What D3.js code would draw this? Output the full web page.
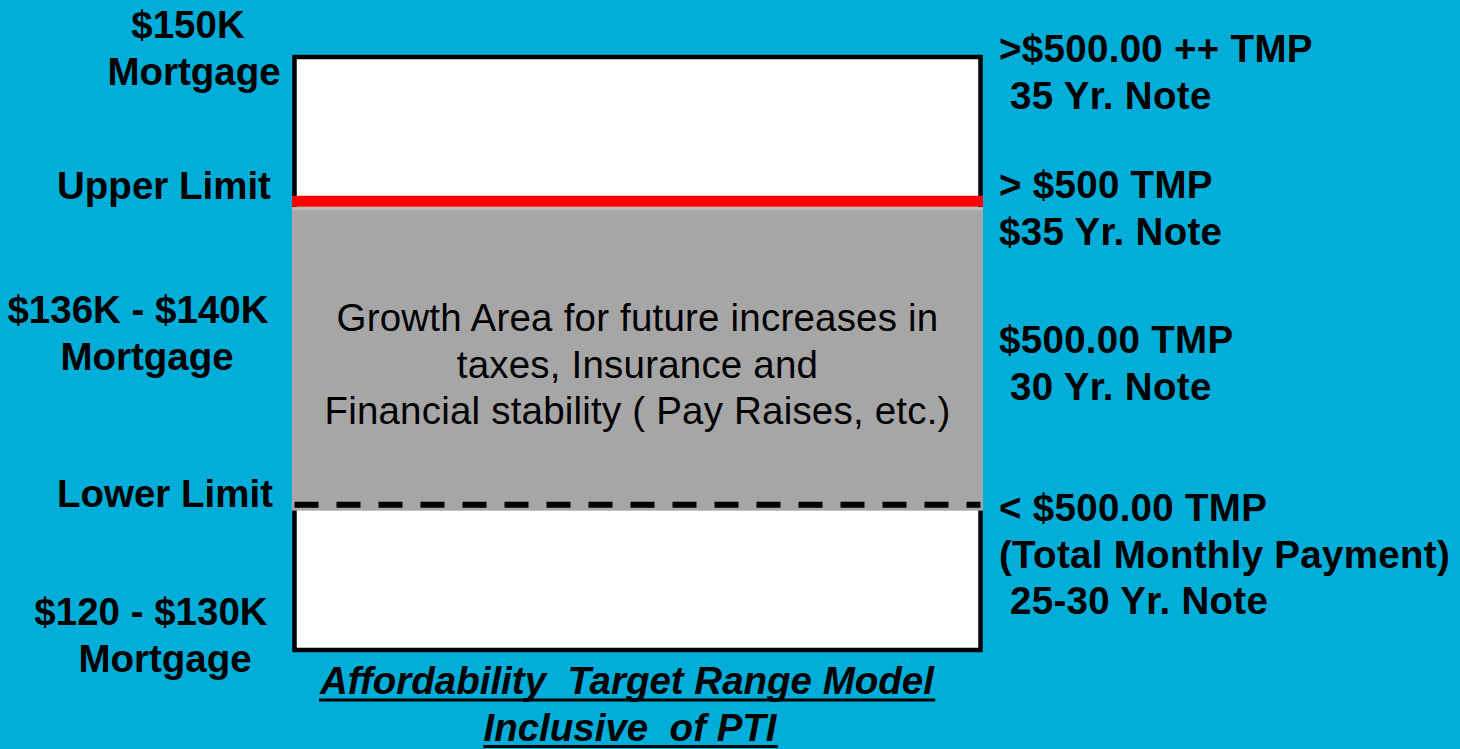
<!DOCTYPE html>
<html>
<head>
<meta charset="utf-8">
<script src="https://cdn.jsdelivr.net/npm/d3@7"></script>
<style>
    html, body { margin: 0; padding: 0; background: #00AED9; }
    svg { display: block; }
    text { font-family: "Liberation Sans", Arial, sans-serif; white-space: pre; fill: #000; }
</style>
</head>
<body>
<svg id="chart" width="1460" height="749"></svg>
<script>
'use strict';

// mortgage range covered by the box ($K)
var mortgageRange = [120, 150];
// upper (red) and lower (dashed) limits
var upperLimit = 142.7;
var lowerLimit = 127.35;
// grey growth band
var growthBand = [142.4, 127.05];

var leftLabels = [
    ['$150K', 'Mortgage'],
    ['Upper Limit'],
    ['$136K - $140K', 'Mortgage'],
    ['Lower Limit'],
    ['$120 - $130K', 'Mortgage']
];
var rightLabels = [
    ['>$500.00 ++ TMP', ' 35 Yr. Note'],
    ['> $500 TMP', '$35 Yr. Note'],
    ['$500.00 TMP', ' 30 Yr. Note'],
    ['< $500.00 TMP', '(Total Monthly Payment)', ' 25-30 Yr. Note']
];
var growthText = [
    'Growth Area for future increases in',
    'taxes, Insurance and',
    'Financial stability ( Pay Raises, etc.)'
];
var titleLines = ['Affordability  Target Range Model', 'Inclusive  of PTI'];

// layout
var box = {x0: 294.5, x1: 980.5, y0: 57, y1: 650};
var lineStep = 46.5;
var leftBase = [38, 199, 323, 507, 625];
var leftCx = [[188, 194], [164], [138, 147], [165], [151, 165]];
var rightBase = [62, 198, 353, 521];
var rightX = 999;

var svg = d3.select('#chart');

var y = d3.scaleLinear()
    .domain(mortgageRange)
    .range([box.y1, box.y0]);

// white box
svg.append('rect')
    .attr('x', box.x0)
    .attr('y', box.y0)
    .attr('width', box.x1 - box.x0)
    .attr('height', box.y1 - box.y0)
    .attr('fill', '#fff')
    .attr('stroke', '#000')
    .attr('stroke-width', 4.5);

// grey growth area (covers the box border)
svg.append('rect')
    .attr('x', box.x0 - 2.5)
    .attr('y', y(growthBand[0]))
    .attr('width', box.x1 - box.x0 + 5)
    .attr('height', y(growthBand[1]) - y(growthBand[0]))
    .attr('fill', '#A6A6A6');

svg.append('line')
    .attr('x1', box.x0 - 2.5).attr('x2', box.x1 + 2.5)
    .attr('y1', y(growthBand[0]) + 1.5).attr('y2', y(growthBand[0]) + 1.5)
    .attr('stroke', '#BDBDBD')
    .attr('stroke-width', 3);

// upper limit
svg.append('line')
    .attr('x1', box.x0 - 2.5).attr('x2', box.x1 + 2.5)
    .attr('y1', y(upperLimit)).attr('y2', y(upperLimit))
    .attr('stroke', '#FF0000')
    .attr('stroke-width', 11);

// lower limit
svg.append('line')
    .attr('x1', box.x0).attr('x2', box.x1)
    .attr('y1', y(lowerLimit)).attr('y2', y(lowerLimit))
    .attr('stroke', '#000')
    .attr('stroke-width', 6)
    .attr('stroke-dasharray', '24 18');

// growth text
svg.append('g')
    .selectAll('text')
    .data(growthText)
    .join('text')
    .attr('x', (box.x0 + box.x1) / 2)
    .attr('y', function (d, i) { return 331 + i * lineStep; })
    .attr('text-anchor', 'middle')
    .style('font-size', '38.5px')
    .style('letter-spacing', '0.2px')
    .text(function (d) { return d; });

// left labels
leftLabels.forEach(function (lines, k) {
    svg.append('g')
        .selectAll('text')
        .data(lines)
        .join('text')
        .attr('x', function (d, i) { return leftCx[k][i]; })
        .attr('y', function (d, i) { return leftBase[k] + i * lineStep; })
        .attr('text-anchor', 'middle')
        .style('font-size', '38.5px')
        .style('font-weight', 'bold')
        .text(function (d) { return d; });
});

// right labels
rightLabels.forEach(function (lines, k) {
    svg.append('g')
        .selectAll('text')
        .data(lines)
        .join('text')
        .attr('x', rightX)
        .attr('y', function (d, i) { return rightBase[k] + i * lineStep; })
        .style('font-size', '38.5px')
        .style('font-weight', 'bold')
        .style('letter-spacing', '0.3px')
        .text(function (d) { return d; });
});

// title, bold italic underlined
var title = svg.append('g')
    .selectAll('text')
    .data(titleLines)
    .join('text')
    .attr('x', function (d, i) { return i ? 630 : 627; })
    .attr('y', function (d, i) { return 694 + i * lineStep; })
    .attr('text-anchor', 'middle')
    .style('font-size', '38.5px')
    .style('font-weight', 'bold')
    .style('font-style', 'italic')
    .text(function (d) { return d; });

title.each(function () {
    var b = this.getBBox();
    var base = +d3.select(this).attr('y');
    svg.append('line')
        .attr('x1', b.x).attr('x2', b.x + b.width)
        .attr('y1', base + 6).attr('y2', base + 6)
        .attr('stroke', '#000')
        .attr('stroke-width', 3);
});
</script>
</body>
</html>
